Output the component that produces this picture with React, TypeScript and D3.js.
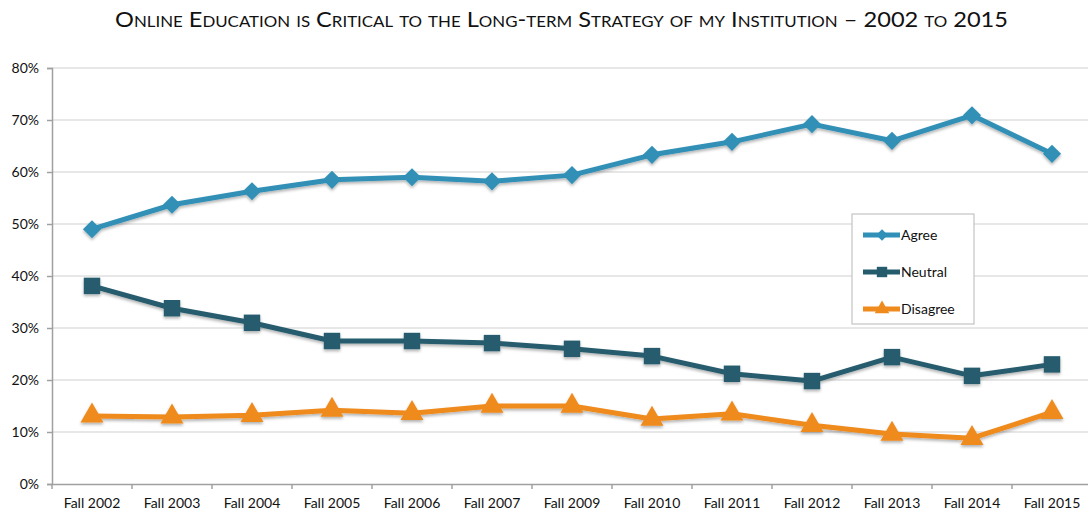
import React, { useEffect, useRef } from 'react';
import * as d3 from 'd3';

const categories = ['Fall 2002', 'Fall 2003', 'Fall 2004', 'Fall 2005', 'Fall 2006', 'Fall 2007', 'Fall 2009', 'Fall 2010', 'Fall 2011', 'Fall 2012', 'Fall 2013', 'Fall 2014', 'Fall 2015'];
const agree = [49.0, 53.7, 56.3, 58.5, 59.0, 58.2, 59.4, 63.3, 65.8, 69.2, 66.0, 70.9, 63.5];
const neutral = [38.1, 33.8, 31.0, 27.5, 27.5, 27.1, 26.0, 24.6, 21.2, 19.8, 24.4, 20.8, 23.0];
const disagree = [13.1, 12.9, 13.2, 14.2, 13.6, 15.0, 15.0, 12.5, 13.5, 11.3, 9.6, 8.8, 13.8];
const yTicks = [0, 10, 20, 30, 40, 50, 60, 70, 80];
const seriesNames = ['Agree', 'Neutral', 'Disagree'];

const series = [
  { name: seriesNames[0], values: agree, color: '#3090b7', symbol: d3.symbolDiamond2, size: 210 },
  { name: seriesNames[1], values: neutral, color: '#255c6d', symbol: d3.symbolSquare, size: 270 },
  { name: seriesNames[2], values: disagree, color: '#ef8a1d', symbol: d3.symbolTriangle, size: 230 },
];

export default function App() {
  const svgRef = useRef<SVGSVGElement>(null);

  useEffect(() => {
    const width = 1088;
    const height = 512;
    const left = 52;
    const top = 68;
    const bottom = 484;

    const svg = d3.select(svgRef.current)
      .attr('width', width)
      .attr('height', height);
    svg.selectAll('*').remove();

    const font = "'Lato', 'Open Sans', sans-serif";

    const defs = svg.append('defs');
    const f = defs.append('filter').attr('id', 'shadow').attr('x', '-20%').attr('y', '-20%').attr('width', '140%').attr('height', '160%');
    f.append('feDropShadow').attr('dx', 0).attr('dy', 2).attr('stdDeviation', 1.5).attr('flood-color', '#000').attr('flood-opacity', 0.3);

    const x = d3.scaleBand().domain(categories).range([left, left + 80 * categories.length]);
    const y = d3.scaleLinear().domain([0, 80]).range([bottom, top]);

    // title
    svg.append('text')
      .attr('x', 115)
      .attr('y', 27)
      .attr('textLength', 893)
      .attr('lengthAdjust', 'spacingAndGlyphs')
      .attr('font-family', font)
      .attr('font-size', 21)
      .style('font-variant', 'small-caps')
      .attr('fill', '#111')
      .text('Online Education is Critical to the Long-term Strategy of my Institution – 2002 to 2015');

    // grid
    svg.append('g')
      .selectAll('line')
      .data(yTicks.filter(t => t > 0))
      .join('line')
      .attr('x1', left)
      .attr('x2', width)
      .attr('y1', d => y(d))
      .attr('y2', d => y(d))
      .attr('stroke', '#cfcfcf')
      .attr('stroke-width', 1.2);

    // y axis
    const yAxis = svg.append('g')
      .attr('transform', `translate(${left},0)`)
      .call(d3.axisLeft(y).tickValues(yTicks).tickFormat(d => `${d}%`).tickSize(5).tickPadding(8));
    yAxis.selectAll('path, line').attr('stroke', '#a0a0a0').attr('stroke-width', 1.5);
    yAxis.selectAll('text').attr('font-family', font).attr('font-size', 14).attr('fill', '#111');

    // x axis
    const xAxis = svg.append('g')
      .attr('transform', `translate(0,${bottom})`)
      .call(d3.axisBottom(x).tickSize(0).tickPadding(14));
    xAxis.select('path').attr('stroke', '#a0a0a0').attr('stroke-width', 1.5);
    xAxis.selectAll('text').attr('font-family', font).attr('font-size', 14).attr('fill', '#111');
    svg.append('g')
      .selectAll('line')
      .data(d3.range(categories.length + 1))
      .join('line')
      .attr('x1', i => left + i * x.step())
      .attr('x2', i => left + i * x.step())
      .attr('y1', bottom)
      .attr('y2', bottom + 5)
      .attr('stroke', '#a0a0a0')
      .attr('stroke-width', 1.5);

    const line = d3.line<number>()
      .x((_, i) => (x(categories[i]) as number) + x.bandwidth() / 2)
      .y(d => y(d));

    series.forEach(s => {
      const g = svg.append('g').attr('filter', 'url(#shadow)');
      g.append('path')
        .datum(s.values)
        .attr('fill', 'none')
        .attr('stroke', s.color)
        .attr('stroke-width', 5)
        .attr('stroke-linejoin', 'round')
        .attr('d', line);
      g.selectAll('path.m')
        .data(s.values)
        .join('path')
        .attr('class', 'm')
        .attr('d', d3.symbol().type(s.symbol).size(s.size)())
        .attr('transform', (d, i) => `translate(${(x(categories[i]) as number) + x.bandwidth() / 2},${y(d)})`)
        .attr('fill', s.color);
    });

    // legend
    const lg = svg.append('g').attr('transform', 'translate(852,214)');
    lg.append('rect')
      .attr('width', 122)
      .attr('height', 110)
      .attr('fill', '#fff')
      .attr('stroke', '#c4c4c4')
      .attr('stroke-width', 1.2);
    series.forEach((s, i) => {
      const cy = 21 + i * 37;
      lg.append('line')
        .attr('x1', 11).attr('x2', 48)
        .attr('y1', cy).attr('y2', cy)
        .attr('stroke', s.color)
        .attr('stroke-width', 5);
      lg.append('path')
        .attr('d', d3.symbol().type(s.symbol).size(s.size * 0.4)())
        .attr('transform', `translate(30,${cy})`)
        .attr('fill', s.color);
      lg.append('text')
        .attr('x', 49)
        .attr('y', cy + 5)
        .attr('font-family', font)
        .attr('font-size', 14)
        .attr('fill', '#111')
        .text(s.name);
    });
  }, []);

  return <svg ref={svgRef} style={{ position: 'absolute', left: 0, top: 0 }}></svg>;
}
